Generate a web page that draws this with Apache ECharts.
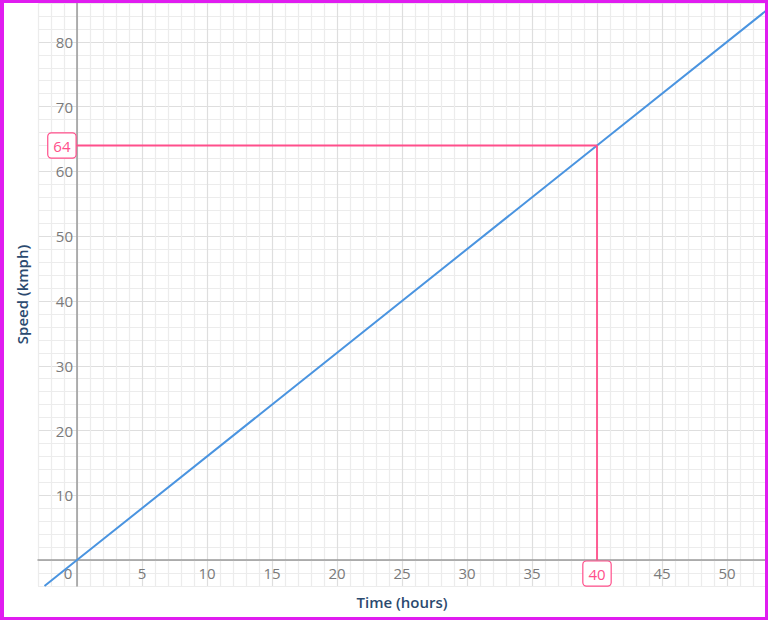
<!DOCTYPE html>
<html>
<head>
<meta charset="utf-8">
<script src="https://cdn.jsdelivr.net/npm/echarts@6/dist/echarts.min.js"></script>
<style>
  html, body { margin: 0; padding: 0; background: #fff; }
  #chart { width: 768px; height: 620px; box-sizing: border-box; border: 3px solid #e01cf0; border-left-width: 4px; }
</style>
</head>
<body>
<div id="chart"></div>
<script>
// line of the graph
const times = [-2.5, 0, 40, 53];
const speeds = [-4, 0, 64, 84.8];
// the reading off the graph
const readTime = 40;
const readSpeed = 64;

const xTicks = [5, 10, 15, 20, 25, 30, 35, 45, 50];
const yTicks = [10, 20, 30, 40, 50, 60, 70, 80];

const pink = '#ff4f8b';
const labelFont = 'Open Sans';

const chart = echarts.init(document.getElementById('chart'), null, { renderer: 'svg' });

const boxLabel = (pos) => ({
  show: true,
  position: pos,
  formatter: (p) => pos === 'left' ? String(p.value[1]) : String(p.value[0]),
  color: pink,
  fontSize: 15,
  fontFamily: labelFont,
  lineHeight: 18,
  backgroundColor: '#fff',
  borderColor: pink,
  borderWidth: 1.2,
  borderRadius: 3,
  padding: [3, 5, 3, 5],
  distance: 1
});

const option = {
  animation: false,
  grid: { left: 34, right: -1, top: 0, bottom: 31, containLabel: false, outerBoundsMode: 'none' },
  xAxis: {
    type: 'value',
    min: -3,
    max: 53,
    interval: 1,
    name: 'Time (hours)',
    nameLocation: 'middle',
    nameGap: 8,
    nameTextStyle: { color: '#2b4a6f', fontSize: 15, fontWeight: 600, fontFamily: labelFont },
    axisLine: { onZero: true, lineStyle: { color: '#9a9a9a', width: 1.5 } },
    axisTick: { show: false },
    axisLabel: {
      inside: true,
      color: '#7a7a7a',
      fontSize: 15,
      fontFamily: labelFont,
      margin: 6,
      showMinLabel: false,
      showMaxLabel: false,
      formatter: (v) => {
        if (v === 0) return '{z|0}';
        return xTicks.indexOf(v) >= 0 ? String(v) : '';
      },
      rich: { z: { color: '#7a7a7a', fontSize: 15, fontFamily: labelFont, padding: [0, 18, 0, 0] } }
    },
    splitLine: { show: true, lineStyle: { color: ['#ececec', '#ececec', '#ececec', '#dedede', '#ececec'], width: 1.2 } }
  },
  yAxis: {
    type: 'value',
    min: -4,
    max: 86,
    interval: 2,
    name: 'Speed (kmph)',
    nameLocation: 'middle',
    nameGap: 9,
    nameTextStyle: { color: '#2b4a6f', fontSize: 15, fontWeight: 600, fontFamily: labelFont },
    axisLine: { onZero: true, lineStyle: { color: '#9a9a9a', width: 1.5 } },
    axisTick: { show: false },
    axisLabel: {
      inside: true,
      align: 'right',
      color: '#7a7a7a',
      fontSize: 15,
      fontFamily: labelFont,
      margin: 35,
      formatter: (v) => yTicks.indexOf(v) >= 0 ? String(v) : ''
    },
    splitLine: { show: true, lineStyle: { color: ['#ececec', '#ececec', '#dedede', '#ececec', '#ececec'], width: 1.2 } }
  },
  series: [
    {
      type: 'line',
      data: times.map((t, i) => [t, speeds[i]]),
      symbol: 'none',
      lineStyle: { color: '#4a94e0', width: 2 },
      z: 3
    },
    {
      type: 'line',
      data: [
        { value: [0, readSpeed], label: boxLabel('left') },
        { value: [readTime, readSpeed] },
        { value: [readTime, 0], label: boxLabel('bottom') }
      ],
      symbol: 'circle',
      symbolSize: 1,
      showSymbol: true,
      itemStyle: { color: pink },
      lineStyle: { color: pink, width: 1.8 },
      z: 4
    }
  ]
};

chart.setOption(option);
</script>
</body>
</html>
